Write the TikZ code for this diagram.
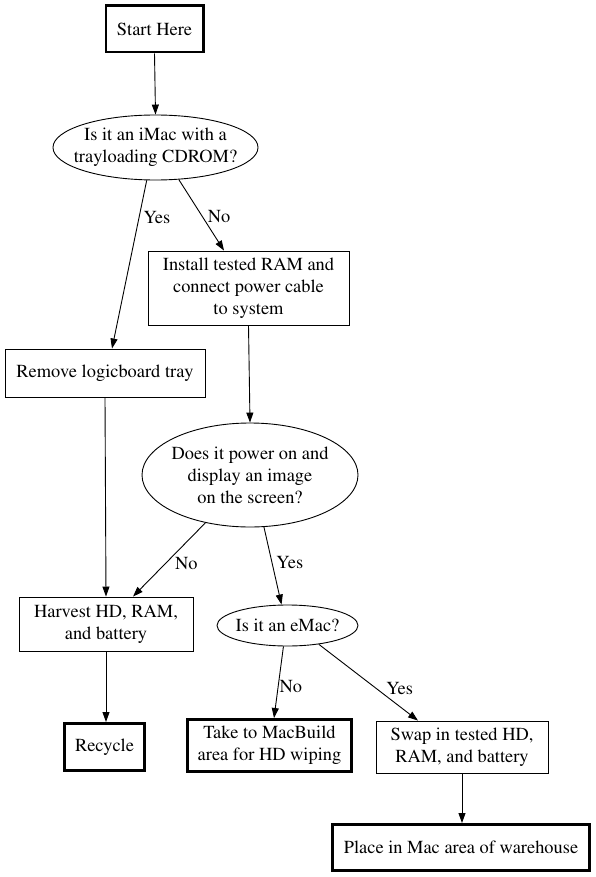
\documentclass[tikz,border=0pt]{standalone}
\usepackage[T1]{fontenc}
\usepackage{times}
\usetikzlibrary{shapes.geometric,arrows.meta}
\begin{document}
\begin{tikzpicture}[x=1pt,y=-1pt,
  font=\rmfamily\fontsize{18.4}{22}\selectfont,
  box/.style={draw, rectangle, inner sep=0pt, align=center, line width=0.9pt},
  boldbox/.style={box, line width=2.6pt},
  qell/.style={draw, ellipse, inner sep=0pt, line width=0.9pt},
  qtext/.style={align=center, inner sep=0pt},
  conn/.style={draw, line width=0.9pt, -{Triangle[length=10pt,width=7pt]}},
  lbl/.style={anchor=west, inner sep=0pt}]
\useasboundingbox[fill=white] (0,0) rectangle (596,877);

% nodes
\node[boldbox, minimum width=97.4pt, minimum height=46.4pt] (start) at (154.5,29) {Start Here};
\node[qell, minimum width=205pt, minimum height=65pt,
      label={[qtext]center:Is it an iMac with a\\trayloading CDROM?}] (q1) at (155.5,147.5) {};
\node[box, minimum width=201pt, minimum height=74pt] (install) at (248.5,288)
      {Install tested RAM and\\connect power cable\\to system};
\node[box, minimum width=200pt, minimum height=48pt] (remove) at (105,373) {Remove logicboard tray};
\node[qell, minimum width=216pt, minimum height=104pt,
      label={[qtext]center:Does it power on and\\display an image\\on the screen?}] (q2) at (250,475) {};
\node[box, minimum width=174pt, minimum height=54pt] (harvest) at (106,624) {Harvest HD, RAM,\\and battery};
\node[qell, minimum width=141pt, minimum height=41pt,
      label={[qtext]center:Is it an eMac?}] (emac) at (287.5,625.5) {};
\node[boldbox, minimum width=80.4pt, minimum height=47.4pt] (recycle) at (104.5,747) {Recycle};
\node[boldbox, minimum width=164.4pt, minimum height=52.4pt] (take) at (269.5,745.5) {Take to MacBuild\\area for HD wiping};
\node[box, minimum width=172pt, minimum height=52pt] (swap) at (462,747) {Swap in tested HD,\\RAM, and battery};
\node[boldbox, minimum width=257.4pt, minimum height=46.4pt] (place) at (461,847.5) {Place in Mac area of warehouse};

% connectors
\draw[conn] (start.south) -- (q1.north);
\draw[conn] (q1.255) -- node[lbl, pos=0.22, xshift=4pt] {Yes} ([xshift=7pt]remove.north);
\draw[conn] (q1.306) -- node[lbl, pos=0.52, xshift=5pt] {No} ([xshift=-24.5pt]install.north);
\draw[conn] (install.south) -- (q2.north);
\draw[conn] (remove.south) -- (harvest.north);
\draw[conn] (q2.227) -- node[lbl, pos=0.55, xshift=9pt] {No} ([xshift=27pt]harvest.north);
\draw[conn] (q2.285) -- node[lbl, pos=0.46, xshift=4pt] {Yes} ([xshift=-6pt]emac.north);
\draw[conn] (harvest.south) -- (harvest.south |- recycle.north);
\draw[conn] (emac.259) -- node[lbl, pos=0.56, xshift=1pt] {No} ([xshift=4.5pt]take.north);
\draw[conn] (emac.329) -- node[lbl, pos=0.575, xshift=10pt] {Yes} ([xshift=-44pt]swap.north);
\draw[conn] (swap.south) -- (swap.south |- place.north);
\end{tikzpicture}
\end{document}
